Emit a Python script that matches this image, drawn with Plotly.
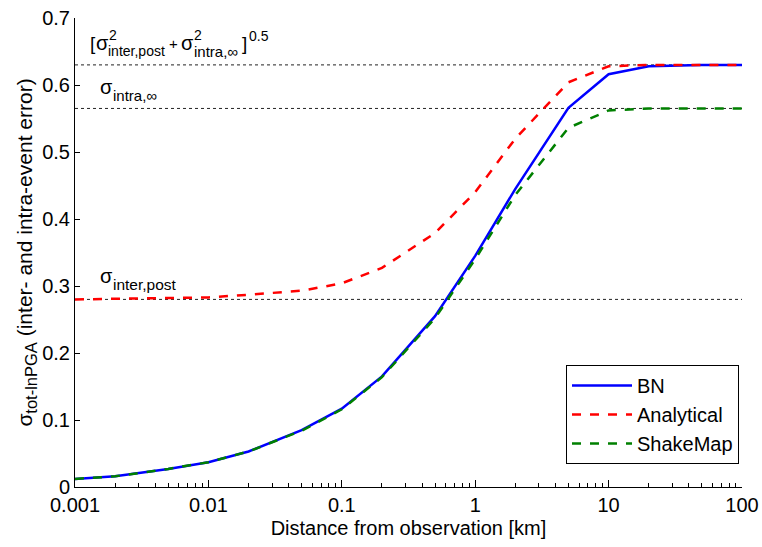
import plotly.graph_objects as go

distance_km = [0.001, 0.002, 0.005, 0.01, 0.02, 0.05, 0.1, 0.2, 0.5, 1, 2, 5, 10, 20, 50, 100]
bn = [0.012, 0.016, 0.027, 0.037, 0.053, 0.085, 0.117, 0.165, 0.255, 0.345, 0.445, 0.566, 0.616, 0.628, 0.630, 0.630]
analytical = [0.280, 0.281, 0.282, 0.283, 0.287, 0.293, 0.304, 0.327, 0.379, 0.440, 0.520, 0.604, 0.628, 0.630, 0.630, 0.630]
shakemap = [0.012, 0.016, 0.027, 0.037, 0.053, 0.084, 0.116, 0.164, 0.252, 0.340, 0.436, 0.536, 0.562, 0.565, 0.565, 0.565]

sigma_total = 0.630
sigma_intra = 0.565
sigma_inter = 0.280

x_tickvals = [0.001, 0.01, 0.1, 1, 10, 100]
x_ticktext = ["0.001", "0.01", "0.1", "1", "10", "100"]
x_minor_tickvals = [m * d for d in [0.001, 0.01, 0.1, 1, 10] for m in range(2, 10)]
y_tickvals = [0, 0.1, 0.2, 0.3, 0.4, 0.5, 0.6, 0.7]
y_ticktext = ["0", "0.1", "0.2", "0.3", "0.4", "0.5", "0.6", "0.7"]

FONT = "Liberation Sans, Arial, sans-serif"
L, R, T, B = 75, 20, 18, 60
W, H = 762, 547
PW, PH = W - L - R, H - T - B

fig = go.Figure()
fig.add_trace(go.Scatter(x=distance_km, y=bn, mode="lines", name="BN",
                         line=dict(color="#0000ff", width=2.5)))
fig.add_trace(go.Scatter(x=distance_km, y=analytical, mode="lines", name="Analytical",
                         line=dict(color="#ff0000", width=2.5, dash="dash")))
fig.add_trace(go.Scatter(x=distance_km, y=shakemap, mode="lines", name="ShakeMap",
                         line=dict(color="#008000", width=2.5, dash="dash")))

for yv in [sigma_total, sigma_intra, sigma_inter]:
    fig.add_shape(type="line", xref="paper", x0=0, x1=1, yref="y", y0=yv, y1=yv,
                  line=dict(color="#222222", width=1, dash="dot"), layer="below")

def ann(px, py, text, size):
    fig.add_annotation(xref="paper", yref="paper",
                       x=(px - L) / PW, y=(H - B - py) / PH,
                       text=text, showarrow=False, xanchor="left", yanchor="middle",
                       font=dict(family=FONT, size=size, color="black"), borderpad=0)

# stacked label 1
ann(89, 43, "[", 19)
ann(95, 43, "σ", 20)
ann(108, 35, "2", 14)
ann(107, 51, "inter,post", 14)
ann(168, 44, "+", 15)
ann(180, 43, "σ", 20)
ann(193, 35, "2", 14)
ann(193, 51, "intra,∞", 15)
ann(241, 43, "]", 19)
ann(248, 36, "0.5", 14)
# label 2
ann(99, 87, "σ", 20)
ann(112, 95, "intra,∞", 15)
# label 3
ann(99, 276, "σ", 20)
ann(112, 284, "inter,post", 15.5)

fig.update_layout(
    width=W, height=H,
    margin=dict(l=L, r=R, t=T, b=B, autoexpand=False),
    paper_bgcolor="white", plot_bgcolor="white",
    font=dict(family=FONT, size=18, color="black"),
    showlegend=True,
    legend=dict(x=(739 - L) / PW, y=(H - B - 464) / PH, xanchor="right", yanchor="bottom",
                bgcolor="white", bordercolor="black", borderwidth=1,
                font=dict(family=FONT, size=20, color="black"),
                tracegroupgap=0, itemwidth=60),
    xaxis=dict(type="log", range=[-3, 2], tickvals=x_tickvals, ticktext=x_ticktext,
               ticks="inside", ticklen=7, tickcolor="black", showgrid=False, zeroline=False,
               showline=True, linecolor="black", linewidth=1, automargin=False,
               tickfont=dict(family=FONT, size=20),
               minor=dict(tickvals=x_minor_tickvals, ticks="inside", ticklen=4,
                          tickcolor="black", showgrid=False),
               title=dict(text="Distance from observation [km]", font=dict(family=FONT, size=20), standoff=5)),
    yaxis=dict(range=[0, 0.7], tickvals=y_tickvals, ticktext=y_ticktext,
               ticks="inside", ticklen=5, tickcolor="black", showgrid=False, zeroline=False,
               showline=True, linecolor="black", linewidth=1, automargin=False,
               tickfont=dict(family=FONT, size=20),
               title=dict(text="σ<sub><span style='font-size:16.5px'>tot-lnPGA</span></sub> (inter- and intra-event error)",
                          font=dict(family=FONT, size=21), standoff=3)),
)

fig.write_html("out.html")
